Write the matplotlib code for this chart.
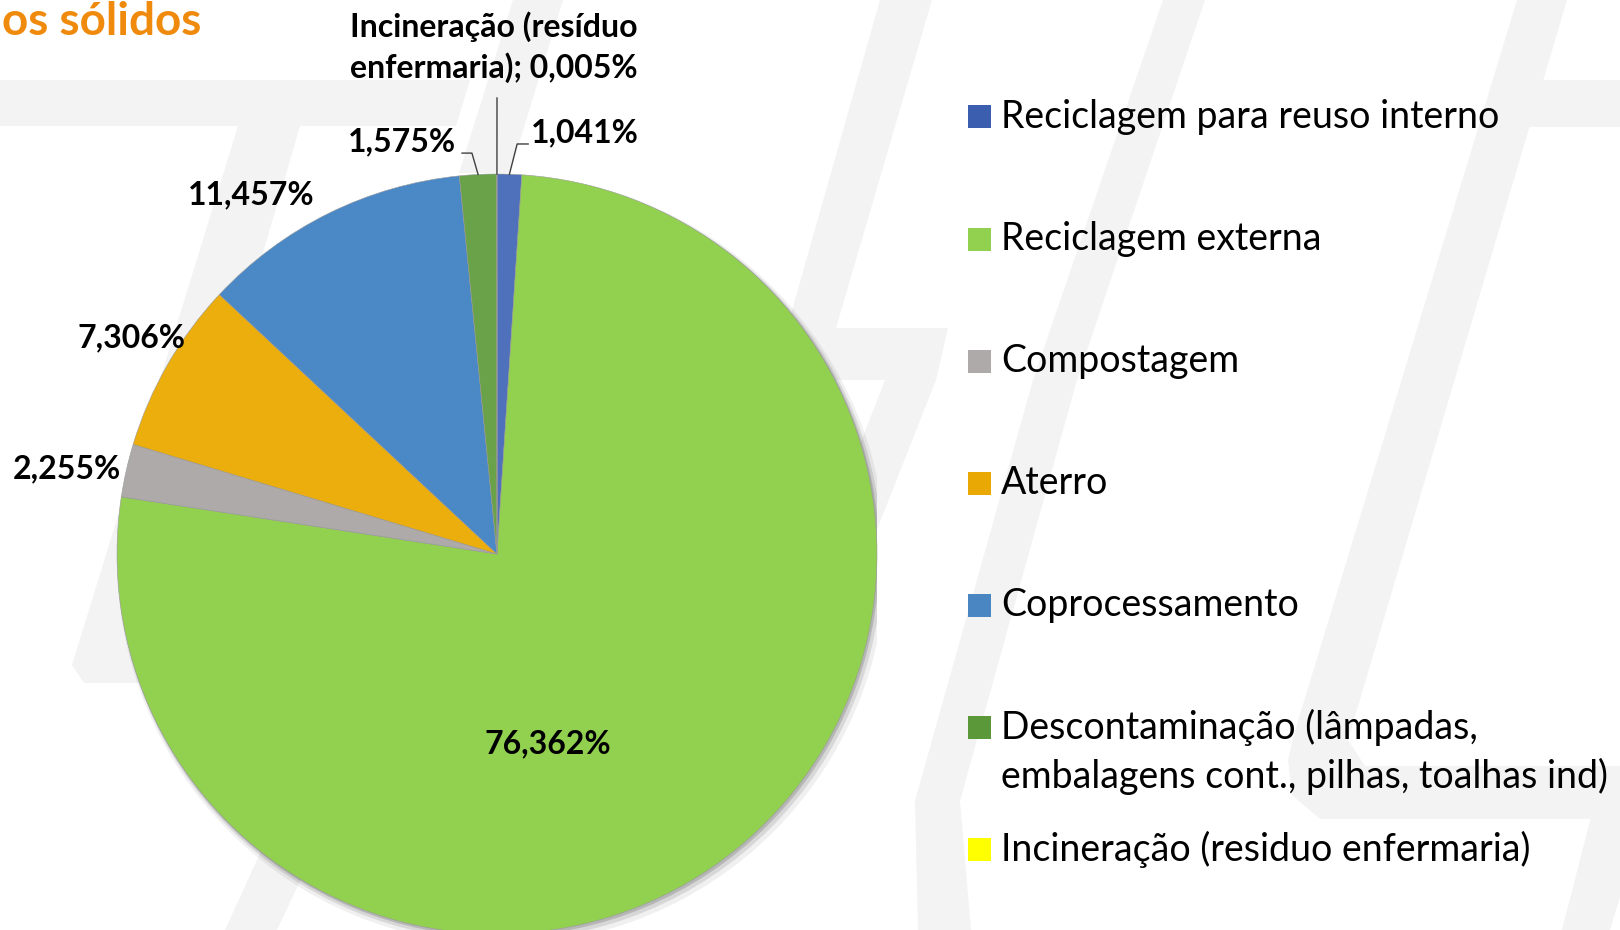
import matplotlib
matplotlib.use("Agg")
import matplotlib.pyplot as plt
import numpy as np
from matplotlib.patches import Polygon, Rectangle, Circle

plt.rcParams['font.family'] = ['Lato', 'DejaVu Sans']

# data
categories = [
    "Reciclagem para reuso interno",
    "Reciclagem externa",
    "Compostagem",
    "Aterro",
    "Coprocessamento",
    "Descontaminação (lâmpadas,\nembalagens cont., pilhas, toalhas ind)",
    "Incineração (residuo enfermaria)",
]
shares = [1.041, 76.362, 2.255, 7.306, 11.457, 1.575, 0.005]
value_labels = ["1,041%", "76,362%", "2,255%", "7,306%", "11,457%", "1,575%",
                "Incineração (resíduo\nenfermaria); 0,005%"]
colors = ["#4f70ba", "#92d050", "#aeaaaa", "#ebae0c", "#4a88c6", "#6aa24a", "#ffff00"]
legend_colors = ["#3b5fae", "#92d050", "#aeaaaa", "#e9a804", "#4a86c2", "#5a983a", "#ffff00"]
title_text = "os sólidos"

W, H = 1620, 930
fig = plt.figure(figsize=(W / 100, H / 100), dpi=100)
fig.patch.set_facecolor("white")

# background canvas in pixel coordinates (y down)
bg = fig.add_axes([0, 0, 1, 1])
bg.set_xlim(0, W)
bg.set_ylim(H, 0)
bg.axis("off")

# faint watermark shapes behind the chart
watermark = [
    [(0, 80), (470, 80), (456, 126), (0, 126)],
    [(513, 0), (563, 0), (510, 173), (459, 173)],
    [(238, 126), (300, 126), (150, 640), (400, 640), (400, 683), (84, 683), (72, 665)],
    [(330, 700), (385, 700), (277, 930), (225, 930)],
    [(880, 0), (932, 0), (836, 328), (948, 328), (936, 380), (865, 560),
     (815, 560), (885, 380), (770, 380), (787, 328)],
    [(1163, 0), (1205, 0), (1077, 380), (960, 801), (971, 930), (918, 930),
     (915, 801), (1033, 380)],
    [(1517, 0), (1567, 0), (1348, 740), (1365, 766), (1620, 766), (1620, 819),
     (1320, 819), (1292, 795), (1288, 760), (1295, 731)],
    [(1604, 766), (1660, 766), (1610, 930), (1562, 930)],
    [(1530, 80), (1620, 80), (1620, 127), (1515, 127)],
]
for pts in watermark:
    bg.add_patch(Polygon(pts, closed=True, facecolor="#f3f3f3", edgecolor="none", zorder=0))

bg.text(2, 1, title_text, fontsize=33, fontweight="bold", color="#ef8a0c",
        ha="left", va="top", zorder=5)

# pie axes: center at (497, 554) px, radius 380 px
cx, cy, r = 497, 554, 380
ax = fig.add_axes([(cx - r) / W, (H - cy - r) / H, 2 * r / W, 2 * r / H])
ax.patch.set_alpha(0)

# soft shadow
for off, rad, a in [(0.012, 1.012, 0.06), (0.008, 1.006, 0.10), (0.004, 1.002, 0.15)]:
    ax.add_patch(Circle((off, -off * 1.3), rad, facecolor="black", edgecolor="none",
                        alpha=a, zorder=0))

wedges, _ = ax.pie(shares, colors=colors, startangle=90, counterclock=False,
                   radius=1, wedgeprops=dict(linewidth=0.4, edgecolor="#9a9a9a"))
for w in wedges:
    w.set_zorder(2)
ax.set_xlim(-1, 1)
ax.set_ylim(-1, 1)
ax.axis("off")

# mid angles of the wedges
angles = [(w.theta1 + w.theta2) / 2 for w in wedges]

lbl = dict(fontsize=23, fontweight="bold", color="black", clip_on=False, zorder=6)
# big slices
ax.text(0.135, -0.50, value_labels[1], ha="center", va="center", **lbl)
ax.text(-0.646, 0.944, value_labels[4], ha="center", va="center", **lbl)
ax.text(-0.963, 0.570, value_labels[3], ha="center", va="center", **lbl)
ax.text(-1.132, 0.224, value_labels[2], ha="center", va="center", **lbl)

# small slices with leader lines
def leader(i, pts):
    a = np.deg2rad(angles[i])
    xs = [np.cos(a)] + [p[0] for p in pts]
    ys = [np.sin(a)] + [p[1] for p in pts]
    ax.plot(xs, ys, color="#404040", lw=1.0, clip_on=False, zorder=5)

leader(5, [(-0.066, 1.055), (-0.092, 1.055)])
ax.text(-0.108, 1.084, value_labels[5], ha="right", va="center", **lbl)
leader(0, [(0.053, 1.079), (0.082, 1.079)])
ax.text(0.090, 1.108, value_labels[0], ha="left", va="center", **lbl)
leader(6, [(0.0, 1.20)])
ax.text(-0.008, 1.335, value_labels[6], ha="center", va="center",
        linespacing=1.4, **lbl)

# legend
legend_y = [117, 239, 361, 483, 605, 727, 849]
for name, col, y in zip(categories, legend_colors, legend_y):
    bg.add_patch(Rectangle((968, y - 11.5), 23, 23, facecolor=col, edgecolor="none", zorder=5))
    for k, line in enumerate(name.split("\n")):
        bg.text(1001, y + k * 49, line, fontsize=27, color="black",
                ha="left", va="center", zorder=5)

fig.savefig("out.png", dpi=100)
